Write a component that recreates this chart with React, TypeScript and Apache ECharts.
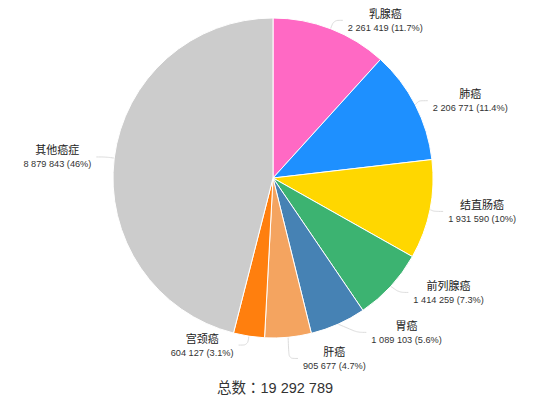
import React, { useEffect, useRef } from 'react';
import * as echarts from 'echarts';

const categories = ['乳腺癌', '肺癌', '结直肠癌', '前列腺癌', '胃癌', '肝癌', '宫颈癌', '其他癌症'];
const values = [2261419, 2206771, 1931590, 1414259, 1089103, 905677, 604127, 8879843];
const colors = ['#FF69C4', '#1E90FF', '#FFD700', '#3CB371', '#4682B4', '#F4A460', '#FF7F0E', '#CCCCCC'];

const total = values.reduce((a, b) => a + b, 0);

const fmt = (n: number) => String(n).replace(/\B(?=(\d{3})+(?!\d))/g, ' ');

const FONT = '"Liberation Sans", "Noto Sans CJK SC", sans-serif';
const TITLE_FONT = '"Liberation Sans", "Noto Sans CJK TC", sans-serif';

const App: React.FC = () => {
  const chartRef = useRef<HTMLDivElement>(null);

  useEffect(() => {
    document.body.style.margin = '0';
    if (!chartRef.current) return;
    const chart = echarts.init(chartRef.current, undefined, { renderer: 'svg' });

    const option: any = {
      animation: false,
      textStyle: { fontFamily: FONT },
      graphic: [{
        type: 'text',
        x: 275,
        y: 388,
        style: {
          text: '总数：' + fmt(total),
          textAlign: 'center',
          textVerticalAlign: 'middle',
          fontSize: 14.5,
          fill: '#333',
          fontFamily: TITLE_FONT
        }
      }],
      series: [{
        type: 'pie',
        center: [273, 178],
        radius: 160,
        startAngle: 90,
        clockwise: true,
        data: categories.map((name, i) => ({
          name,
          value: values[i],
          itemStyle: { color: colors[i] }
        })),
        itemStyle: { borderColor: '#fff', borderWidth: 1 },
        label: {
          show: true,
          position: 'outside',
          formatter: (p: any) => {
            const pct = parseFloat(((p.value / total) * 100).toFixed(1));
            return `{n|${p.name}}\n{v|${fmt(p.value)} (${pct}%)}`;
          },
          rich: {
            n: { fontSize: 11, color: '#222', align: 'center', lineHeight: 15, fontFamily: FONT },
            v: { fontSize: 9.2, color: '#333', align: 'center', lineHeight: 13, fontFamily: FONT }
          }
        },
        labelLine: {
          show: true,
          length: 9,
          length2: 9,
          smooth: 0.3,
          lineStyle: { color: '#dcdcdc', width: 1 }
        }
      }]
    };

    chart.setOption(option);
    return () => chart.dispose();
  }, []);

  return <div ref={chartRef} style={{ width: 537, height: 406 }} />;
};

export default App;
